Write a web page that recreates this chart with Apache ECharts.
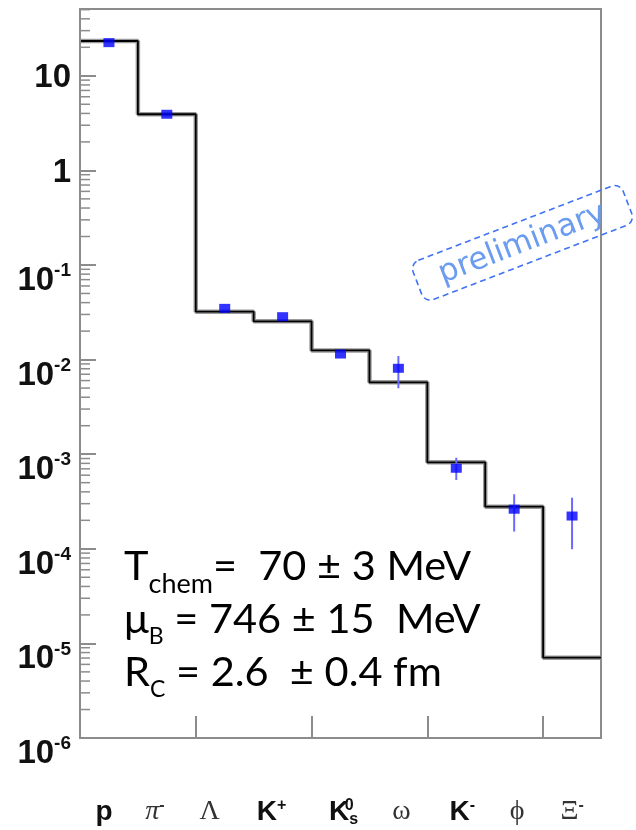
<!DOCTYPE html>
<html>
<head>
<meta charset="utf-8">
<script src="https://cdn.jsdelivr.net/npm/echarts@6/dist/echarts.min.js"></script>
<style>
  html, body { margin: 0; padding: 0; background: #fff; }
  #chart { width: 636px; height: 830px; }
</style>
</head>
<body>
<div id="chart"></div>
<script>
// Particle species along the x axis
const categories = ['p', 'π-', 'Λ', 'K+', 'K0s', 'ω', 'K-', 'ϕ', 'Ξ-'];
// Measured yields with their error ranges
const measured = [22.4, 3.92, 0.0348, 0.0284, 0.01145, 0.00809, 7.1e-4, 2.62e-4, 2.22e-4];
const errLow   = [22.4, 3.92, 0.0348, 0.0284, 0.01145, 0.00498, 5.33e-4, 1.52e-4, 9.9e-5];
const errHigh  = [22.4, 3.92, 0.0348, 0.0284, 0.01145, 0.0109, 9.18e-4, 3.77e-4, 3.47e-4];
// Statistical-model yields (histogram)
const model    = [23.3, 3.92, 0.0321, 0.0254, 0.0125, 0.00575, 8.2e-4, 2.79e-4, 7.06e-6];
// Y axis range and minor tick multipliers per decade
const yMin = 1e-6, yMax = 50.8;
const minorSteps = [2, 3, 4, 5, 6, 7, 8, 9];
// Fit parameters shown in the plot
const fitLines = [
  '{n|T}{sc|chem}{n|=  70 ± 3 MeV}',
  '{n|μ}{sb|B}{n| = 746 ± 15  MeV}',
  '{n|R}{sb|C}{n| = 2.6  ± 0.4 fm}'
];

const frameColor = '#8c8c8c';
const labelShift = [-5, -12, -15, -11, 3, 3, 6, 3, 0];

const chart = echarts.init(document.getElementById('chart'), null, { renderer: 'canvas' });

const stepData = model.map((v, i) => [i, v]).concat([[categories.length, model[model.length - 1]]]);
const pointData = measured.map((v, i) => [i + 0.5, v]);
const errData = measured.map((v, i) => [i + 0.5, errLow[i], errHigh[i]]);

const minorData = [];
for (let e = Math.round(Math.log10(yMin)); e <= Math.ceil(Math.log10(yMax)); e++) {
  minorSteps.forEach(m => {
    const v = m * Math.pow(10, e);
    if (v > yMin && v < yMax) minorData.push([0, v]);
  });
}

// Rich text for the species labels
const speciesRich = {
  sb:  { fontFamily: 'Liberation Sans', fontWeight: 'bold', fontSize: 28, lineHeight: 28, color: '#111', verticalAlign: 'top' },
  sup: { fontFamily: 'Liberation Sans', fontWeight: 'bold', fontSize: 16, lineHeight: 16, color: '#111', verticalAlign: 'top' },
  sup0:{ fontFamily: 'Liberation Sans', fontWeight: 'bold', fontSize: 16, lineHeight: 16, color: '#111', verticalAlign: 'top', width: 0 },
  sub: { fontFamily: 'Liberation Sans', fontWeight: 'bold', fontSize: 16, lineHeight: 16, color: '#111', verticalAlign: 'top', padding: [14, 0, 0, 0] },
  gr:  { fontFamily: 'Liberation Serif', fontSize: 28, lineHeight: 28, color: '#333', verticalAlign: 'top' },
  gri: { fontFamily: 'Liberation Serif', fontStyle: 'italic', fontSize: 28, lineHeight: 28, color: '#333', verticalAlign: 'top' },
  gsup:{ fontFamily: 'Liberation Sans', fontWeight: 'bold', fontSize: 16, lineHeight: 16, color: '#333', verticalAlign: 'top' }
};
labelShift.forEach((s, i) => {
  speciesRich['g' + i] = { width: Math.abs(2 * s), fontSize: 10, lineHeight: 10, verticalAlign: 'top' };
});
const speciesText = {
  'p':   '{sb|p}',
  'π-':  '{gri|π}{gsup|-}',
  'Λ':   '{gr|Λ}',
  'K+':  '{sb|K}{sup|+}',
  'K0s': '{sb|K}{sup0|0}{sub|s}',
  'ω':   '{gr|ω}',
  'K-':  '{sb|K}{sup|-}',
  'ϕ':   '{gr|ϕ}',
  'Ξ-':  '{gr|Ξ}{gsup|-}'
};

const option = {
  animation: false,
  backgroundColor: '#fff',
  grid: { left: 80, top: 9, right: 35, bottom: 92, show: true, borderColor: frameColor, borderWidth: 2 },
  xAxis: [
    {
      type: 'value', min: 0, max: categories.length, interval: 2,
      axisLine: { show: true, lineStyle: { color: frameColor, width: 2 } },
      axisTick: { show: true, inside: true, length: 22, lineStyle: { color: frameColor, width: 2 } },
      axisLabel: { show: false },
      splitLine: { show: false }
    },
    {
      type: 'category', data: categories, position: 'bottom', boundaryGap: true,
      axisLine: { show: false }, axisTick: { show: false }, splitLine: { show: false },
      axisLabel: {
        interval: 0, margin: 60,
        formatter: (val, idx) => {
          const s = labelShift[idx];
          const gap = s === 0 ? '' : '{g' + idx + '| }';
          return s < 0 ? speciesText[val] + gap : gap + speciesText[val];
        },
        rich: speciesRich
      }
    }
  ],
  yAxis: {
    type: 'log', logBase: 10, min: yMin, max: yMax, splitNumber: 8,
    z: 5,
    axisLine: { show: true, lineStyle: { color: frameColor, width: 2 } },
    axisTick: { show: true, inside: true, length: 16, lineStyle: { color: frameColor, width: 2 } },
    splitLine: { show: false },
    axisLabel: {
      margin: 9, showMaxLabel: false,
      formatter: v => {
        const e = Math.round(Math.log10(v));
        if (e === 1) return '{b|10}';
        if (e === 0) return '{b|1}';
        return '{be|10}{s|' + e + '}';
      },
      rich: {
        b:  { fontFamily: 'Liberation Sans', fontWeight: 'bold', fontSize: 33, lineHeight: 33, color: '#111', padding: [5, 0, 0, 0] },
        be: { fontFamily: 'Liberation Sans', fontWeight: 'bold', fontSize: 33, lineHeight: 33, color: '#111', padding: [16, 0, 0, 0], verticalAlign: 'top' },
        s:  { fontFamily: 'Liberation Sans', fontWeight: 'bold', fontSize: 19, lineHeight: 19, color: '#111', padding: [13, 0, 0, 0], verticalAlign: 'top' }
      }
    }
  },
  series: [
    {
      type: 'custom', name: 'minor ticks', xAxisIndex: 0, z: 4, silent: true,
      data: minorData,
      renderItem: (params, api) => {
        const p = api.coord([0, api.value(1)]);
        return { type: 'line', shape: { x1: p[0], y1: p[1], x2: p[0] + 10, y2: p[1] },
                 style: { stroke: frameColor, lineWidth: 1.5 } };
      }
    },
    {
      type: 'line', name: 'model shadow', xAxisIndex: 0, step: 'end', data: stepData,
      showSymbol: false, symbol: 'none', z: 2,
      lineStyle: { color: '#9a9a9a', width: 4.5 }
    },
    {
      type: 'line', name: 'model', xAxisIndex: 0, step: 'end', data: stepData,
      showSymbol: false, symbol: 'none', z: 3,
      lineStyle: { color: '#000', width: 1.8 }
    },
    {
      type: 'custom', name: 'errors', xAxisIndex: 0, z: 5,
      data: errData,
      renderItem: (params, api) => {
        const lo = api.coord([api.value(0), api.value(1)]);
        const hi = api.coord([api.value(0), api.value(2)]);
        if (Math.abs(lo[1] - hi[1]) < 1) return null;
        return { type: 'line', shape: { x1: lo[0], y1: lo[1], x2: hi[0], y2: hi[1] },
                 style: { stroke: '#6a6aff', lineWidth: 2 } };
      }
    },
    {
      type: 'scatter', name: 'data', xAxisIndex: 0, z: 6,
      data: pointData, symbol: 'rect', symbolSize: [11, 9],
      itemStyle: { color: '#0000ff' }
    }
  ],
  graphic: [
    {
      type: 'group', x: 522, y: 243, rotation: 21 * Math.PI / 180, z: -1,
      children: [
        {
          type: 'rect', shape: { x: -112, y: -21, width: 225, height: 42, r: 9 },
          style: { fill: 'none', stroke: '#3f72f5', lineWidth: 1.6, lineDash: [6, 4] }
        },
        {
          type: 'text', x: 0, y: 1,
          style: { text: 'preliminary', fontFamily: 'DejaVu Sans', fontSize: 31, fill: '#6b9cf0',
                   align: 'center', verticalAlign: 'middle' }
        }
      ]
    }
  ].concat(fitLines.map((t, i) => ({
    type: 'text', x: 124, y: [546, 598.5, 651.5][i], z: 10,
    style: {
      text: t,
      rich: {
        n:  { fontFamily: 'Lato, "Noto Sans", sans-serif', fontSize: 41.5, lineHeight: 41.5, fill: '#000', verticalAlign: 'top' },
        sc: { fontFamily: 'Lato, "Noto Sans", sans-serif', fontSize: 27, lineHeight: 27, fill: '#000', verticalAlign: 'top', padding: [25, 0, 0, 0] },
        sb: { fontFamily: 'Lato, "Noto Sans", sans-serif', fontSize: 23, lineHeight: 23, fill: '#000', verticalAlign: 'top', padding: [27, 0, 0, 0] }
      }
    }
  })))
};

chart.setOption(option);
</script>
</body>
</html>
